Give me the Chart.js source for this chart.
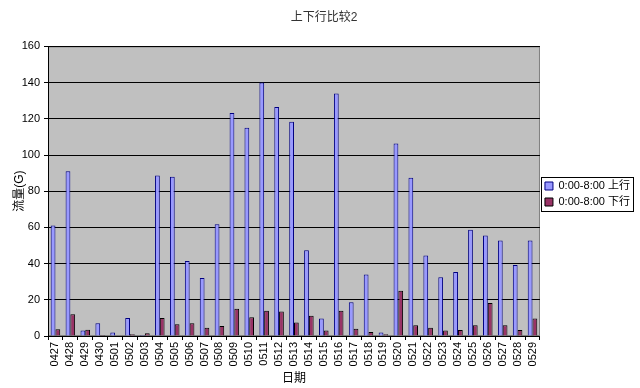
<!DOCTYPE html>
<html>
<head>
<meta charset="utf-8">
<script src="https://cdn.jsdelivr.net/npm/chart.js@4/dist/chart.umd.min.js"></script>
<style>
  html, body { margin: 0; padding: 0; background: #fff; }
  #wrap { width: 640px; height: 388px; }
</style>
</head>
<body>
<div id="wrap"><canvas id="chartFlow" width="640" height="388"></canvas></div>
<script>
// dates (x axis)
const dates = ['0427','0428','0429','0430','0501','0502','0503','0504','0505','0506',
  '0507','0508','0509','0510','0511','0512','0513','0514','0515','0516',
  '0517','0518','0519','0520','0521','0522','0523','0524','0525','0526',
  '0527','0528','0529'];

// 0:00-8:00 upstream
const upValues = [61, 91, 3, 7, 2, 10, 0.5, 88.7, 88, 41.4,
  32, 61.8, 123.2, 115, 140, 126.5, 118.4, 47.4, 9.7, 134,
  18.6, 34, 2, 106.3, 87.5, 44.5, 32.5, 35.3, 58.7, 55.5,
  52.8, 39.2, 52.8];

// 0:00-8:00 downstream
const downValues = [3.7, 12, 3.5, 0.5, 0.3, 1, 1.5, 10, 6.5, 7,
  4.5, 5.5, 15, 10.3, 14, 13.6, 7.5, 11.2, 3, 14,
  4, 2.2, 1, 25, 5.9, 4.5, 3, 3.3, 5.9, 18.2,
  5.9, 3.3, 9.7];

const yTicks = [0, 20, 40, 60, 80, 100, 120, 140, 160];

const fontFam = '"Liberation Sans", "Noto Sans CJK SC", sans-serif';

// gray plot area + legend frame
const plotBg = {
  id: 'plotBg',
  beforeDraw(chart) {
    const a = chart.chartArea, ctx = chart.ctx;
    ctx.save();
    ctx.fillStyle = '#c0c0c0';
    ctx.fillRect(a.left, a.top, a.right - a.left, a.bottom - a.top);
    ctx.strokeStyle = '#808080';
    ctx.lineWidth = 1;
    ctx.strokeRect(a.left + 0.5, a.top + 0.5, a.right - a.left - 1, a.bottom - a.top - 1);
    ctx.restore();
  },
  afterDraw(chart) {
    const boxes = chart.legend.legendHitBoxes, ctx = chart.ctx;
    if (!boxes || !boxes.length) return;
    let l = Infinity, t = Infinity, r = -Infinity, b = -Infinity;
    boxes.forEach(h => {
      l = Math.min(l, h.left); t = Math.min(t, h.top);
      r = Math.max(r, h.left + h.width); b = Math.max(b, h.top + h.height);
    });
    ctx.save();
    ctx.strokeStyle = '#000';
    ctx.lineWidth = 1;
    ctx.strokeRect(Math.round(l - 4) + 0.5, Math.round(t - 4) + 0.5, Math.round(r - l + 7), Math.round(b - t + 7));
    ctx.restore();
  }
};

var config = {
  type: 'bar',
  data: {
    labels: dates,
    datasets: [
      {
        label: '0:00-8:00 上行',
        data: upValues,
        backgroundColor: '#9999ff',
        borderColor: '#000080',
        borderWidth: 1
      },
      {
        label: '0:00-8:00 下行',
        data: downValues,
        backgroundColor: '#993366',
        borderColor: '#000000',
        borderWidth: 1
      }
    ]
  },
  options: {
    responsive: false,
    animation: false,
    layout: { padding: { left: 8, right: 0, top: 0, bottom: 0 } },
    datasets: { bar: { categoryPercentage: 0.64, barPercentage: 1 } },
    plugins: {
      title: {
        display: true,
        text: '上下行比较2',
        color: '#333',
        font: { family: fontFam, size: 12, weight: 'normal' },
        padding: { top: 10, bottom: 22 }
      },
      legend: {
        position: 'right',
        labels: {
          boxWidth: 8,
          boxHeight: 8,
          padding: 5,
          color: '#000',
          font: { family: fontFam, size: 11 }
        }
      },
      tooltip: { enabled: false }
    },
    scales: {
      x: {
        afterFit(axis) { axis.height = 52; },
        grid: { display: true, drawOnChartArea: false, offset: true, color: '#000', tickLength: 4 },
        border: { color: '#000' },
        ticks: {
          color: '#000',
          minRotation: 90,
          maxRotation: 90,
          autoSkip: false,
          padding: 2,
          font: { family: fontFam, size: 11 }
        },
        title: {
          display: true,
          text: '日期',
          color: '#000',
          padding: { top: 0, bottom: 2 },
          font: { family: fontFam, size: 12 }
        }
      },
      y: {
        min: 0,
        max: 160,
        afterFit(axis) { axis.width = 40; },
        afterBuildTicks(axis) { axis.ticks = yTicks.map(v => ({ value: v })); },
        grid: { color: '#000', tickLength: 4 },
        border: { color: '#000' },
        ticks: {
          color: '#000',
          padding: 4,
          font: { family: fontFam, size: 11 }
        },
        title: {
          display: true,
          text: '流量(G)',
          color: '#000',
          font: { family: fontFam, size: 12 }
        }
      }
    }
  },
  plugins: [plotBg]
};

var ctxFlow = document.getElementById('chartFlow').getContext('2d');
window.flowChart = new Chart(ctxFlow, config);
</script>
</body>
</html>
